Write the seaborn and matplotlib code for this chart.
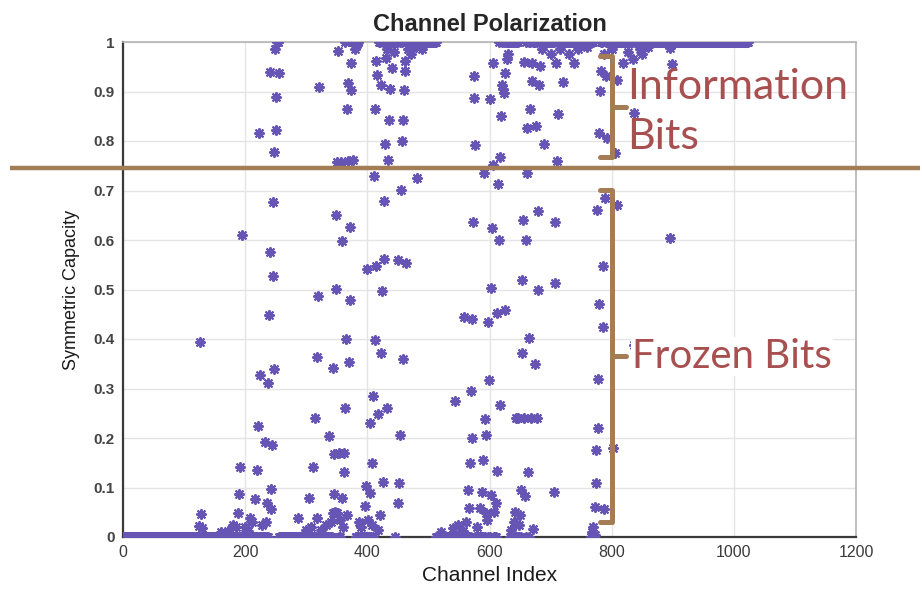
import numpy as np
import pandas as pd
import matplotlib
matplotlib.use("Agg")
import matplotlib.pyplot as plt
import matplotlib.transforms as mtransforms
from matplotlib import font_manager
import seaborn as sns

# ---------------------------------------------------------------------------
# Data: symmetric capacity of the synthesised channels (N = 1024)
# ---------------------------------------------------------------------------
N_CHANNELS = 1024

# Channels whose capacity lies strictly between 0 and 1
mid_index = [
    124, 126, 128, 130, 160, 172, 180, 185, 188, 190, 192, 194, 200, 205, 208, 212,
    216, 219, 221, 223, 225, 228, 232, 234, 236, 238, 239, 240, 241, 242, 243, 244,
    245, 246, 247, 248, 249, 250, 251, 255,
    287, 300, 305, 308, 311, 315, 317, 318, 320, 321, 324, 333, 337, 340, 343, 344,
    345, 346, 347, 348, 349, 350, 351, 352, 353, 355, 357, 358, 359, 360, 361, 362,
    363, 365, 366, 367, 368, 369, 370, 371, 372, 373, 374, 376, 380, 383, 386, 390,
    396, 398, 399, 401, 404, 405, 407, 408, 410, 411, 412, 413, 414, 415, 416, 417,
    418, 420, 422, 423, 424, 426, 427, 428, 429, 430, 432, 433, 434, 436, 437, 440,
    444, 445, 450, 451, 452, 453, 455, 456, 458, 459, 460, 461, 462, 464, 467, 472,
    480, 481, 490,
    520, 540, 543, 548, 556, 559, 562, 565, 566, 568, 570, 571, 572, 573, 574, 575,
    576, 580, 585, 587, 590, 591, 593, 594, 595, 596, 598, 599, 601, 602, 603, 604,
    605, 606, 608, 611, 612, 613, 614, 615, 617, 618, 619, 620, 622, 624, 625, 626,
    628, 630, 636, 640, 642, 644, 646, 648, 650, 652, 653, 654, 655, 656, 657, 658,
    660, 661, 662, 663, 665, 666, 668, 669, 670, 672, 675, 676, 678, 679, 680, 681,
    683, 686, 689, 700, 705, 707, 708, 709, 710, 712, 716, 721, 730, 738, 745, 760,
    768, 770, 772, 773, 774, 775, 776, 777, 778, 779, 780, 781, 783, 785, 786, 787,
    788, 789, 790, 792, 800, 803, 806, 808, 809, 819, 826, 835, 836, 837, 846, 849,
    860, 895, 896, 898,
]
mid_capacity = [
    0.022, 0.393, 0.047, 0.018, 0.010, 0.012, 0.025, 0.020, 0.049, 0.086, 0.142, 0.611, 0.020, 0.012, 0.039, 0.030,
    0.076, 0.136, 0.224, 0.817, 0.327, 0.025, 0.192, 0.030, 0.068, 0.312, 0.449, 0.575, 0.940, 0.097, 0.057, 0.186,
    0.528, 0.677, 0.777, 0.339, 0.985, 0.823, 0.889, 0.937,
    0.039, 0.015, 0.078, 0.020, 0.142, 0.240, 0.363, 0.039, 0.486, 0.910, 0.015, 0.025, 0.204, 0.030, 0.048, 0.341,
    0.086, 0.167, 0.050, 0.501, 0.651, 0.757, 0.048, 0.982, 0.170, 0.035, 0.758, 0.079, 0.597, 0.020, 0.132, 0.170,
    0.261, 0.400, 0.865, 0.044, 0.759, 0.918, 0.354, 0.479, 0.626, 0.904, 0.958, 0.762, 0.985, 0.995, 0.030, 0.020,
    0.062, 0.104, 0.541, 0.035, 0.088, 0.230, 0.150, 0.025, 0.285, 0.730, 0.398, 0.865, 0.547, 0.962, 0.933, 0.015,
    0.248, 0.044, 0.372, 0.914, 0.496, 0.111, 0.561, 0.678, 0.793, 0.968, 0.261, 0.985, 0.761, 0.842, 0.906, 0.948,
    0.980, 0.000, 0.068, 0.559, 0.110, 0.206, 0.702, 0.800, 0.360, 0.842, 0.903, 0.962, 0.941, 0.553, 0.985, 0.975,
    0.990, 0.726, 0.985,
    0.010, 0.018, 0.275, 0.025, 0.012, 0.445, 0.030, 0.095, 0.058, 0.149, 0.295, 0.440, 0.199, 0.636, 0.931, 0.887,
    0.791, 0.020, 0.058, 0.091, 0.155, 0.736, 0.238, 0.049, 0.206, 0.035, 0.435, 0.318, 0.885, 0.084, 0.503, 0.624,
    0.752, 0.958, 0.050, 0.068, 0.452, 0.134, 0.714, 0.601, 0.267, 0.768, 0.850, 0.914, 0.905, 0.897, 0.459, 0.938,
    0.965, 0.975, 0.015, 0.030, 0.050, 0.240, 0.240, 0.025, 0.044, 0.095, 0.520, 0.372, 0.641, 0.960, 0.240, 0.082,
    0.599, 0.736, 0.827, 0.132, 0.402, 0.864, 0.240, 0.921, 0.958, 0.016, 0.350, 0.830, 0.240, 0.498, 0.658, 0.914,
    0.951, 0.985, 0.793, 0.975, 0.091, 0.636, 0.513, 0.958, 0.759, 0.854, 0.985, 0.919, 0.975, 0.958, 0.985, 0.990,
    0.010, 0.020, 0.005, 0.061, 0.176, 0.109, 0.661, 0.221, 0.320, 0.817, 0.471, 0.901, 0.941, 0.424, 0.548, 0.057,
    0.975, 0.685, 0.931, 0.807, 0.985, 0.179, 0.776, 0.671, 0.924, 0.958, 0.980, 0.965, 0.857, 0.388, 0.985, 0.975,
    0.990, 0.988, 0.604, 0.955,
]

# Contiguous index ranges (inclusive) of fully bad and fully good channels
zero_runs = [(0, 245), (256, 362), (380, 411), (513, 614), (634, 664), (766, 772)]
one_runs = [(251, 255), (364, 386), (412, 512), (615, 648), (658, 770), (781, 1023)]

# Capacity threshold separating information bits from frozen bits
threshold = 0.746

# ---------------------------------------------------------------------------
# Assemble the scatter table
# ---------------------------------------------------------------------------
explicit = set(mid_index)
rows_idx, rows_val = list(mid_index), list(mid_capacity)
for runs, value in ((zero_runs, 0.0), (one_runs, 1.0)):
    for lo, hi in runs:
        for i in range(lo, hi + 1):
            if i not in explicit:
                rows_idx.append(i)
                rows_val.append(value)
df = pd.DataFrame({"Channel Index": rows_idx, "Symmetric Capacity": rows_val})


def first_font(cands):
    names = {f.name for f in font_manager.fontManager.ttflist}
    for c in cands:
        if c in names:
            return c
    return "DejaVu Sans"


narrow = first_font(["Liberation Sans Narrow", "Liberation Sans", "DejaVu Sans"])
label_font = first_font(["Lato", "Open Sans", "DejaVu Sans"])

sns.set_style("white")
plt.rcParams["font.family"] = [narrow, "DejaVu Sans"]

fig = plt.figure(figsize=(9.22, 5.90), dpi=100)
ax = fig.add_axes([123 / 922, 1 - 537 / 590, 733 / 922, 495 / 590])

point_color = "#6655B5"
sns.scatterplot(data=df, x="Channel Index", y="Symmetric Capacity", ax=ax,
                marker=(8, 2, 0), s=42, color=point_color, edgecolor=point_color,
                linewidth=1.5, zorder=3)

ax.set_xlim(0, 1200)
ax.set_ylim(0, 1)
ax.set_xticks(np.arange(0, 1201, 200))
ax.set_yticks(np.round(np.arange(0, 1.01, 0.1), 1))
ax.set_yticklabels(["0"] + [f"{v:.1f}" for v in np.arange(0.1, 0.95, 0.1)] + ["1"],
                   fontweight="bold")
ax.tick_params(axis="both", direction="in", length=4, width=1.2, colors="#333333",
               labelsize=11, pad=6)
ax.tick_params(axis="y", labelcolor="#444444")
ax.tick_params(axis="x", labelcolor="#3a3a3a", labelsize=11.5)
ax.grid(True, color="#e4e4e4", lw=1.0)
ax.set_axisbelow(True)
for side in ("left", "bottom"):
    ax.spines[side].set_color("#3a3a3a")
    ax.spines[side].set_linewidth(1.6)
for side in ("top", "right"):
    ax.spines[side].set_color("#b5b5b5")
    ax.spines[side].set_linewidth(1.2)
    ax.spines[side].set_visible(True)

ax.set_title("Channel Polarization", fontsize=17, fontweight="bold", pad=8)
ax.set_xlabel("Channel Index", fontsize=15, labelpad=4, color="#1a1a1a")
ax.set_ylabel("Symmetric Capacity", fontsize=13, labelpad=10, color="#1a1a1a")

# ---------------------------------------------------------------------------
# Threshold line and bracket annotations
# ---------------------------------------------------------------------------
brown = "#A47C55"
red_text = "#A84F50"
blend = mtransforms.blended_transform_factory(fig.transFigure, ax.transData)
ax.plot([10 / 922, 920 / 922], [threshold, threshold], transform=blend,
        color=brown, lw=3.2, clip_on=False, zorder=4, solid_capstyle="butt")


def bracket(y_top, y_bot, y_mid, x_in=781, x_line=800, x_tip=823):
    kw = dict(color=brown, lw=3.6, clip_on=False, zorder=5,
              solid_capstyle="round", solid_joinstyle="round")
    ax.plot([x_in, x_line, x_line, x_in], [y_top, y_top, y_bot, y_bot], **kw)
    ax.plot([x_line, x_tip], [y_mid, y_mid], **kw)


bracket(0.971, 0.768, 0.868)
bracket(0.701, 0.030, 0.366)

ax.text(826, 0.884, "Information", fontsize=31, color=red_text, family=label_font,
        va="baseline", ha="left", clip_on=False, zorder=6)
ax.text(826, 0.783, "Bits", fontsize=31, color=red_text, family=label_font,
        va="baseline", ha="left", clip_on=False, zorder=6)
ax.text(833, 0.3415, "Frozen Bits", fontsize=29, color=red_text, family=label_font,
        va="baseline", ha="left", clip_on=False, zorder=6,
        bbox=dict(facecolor="white", edgecolor="none", pad=0.5))

fig.savefig("out.png", dpi=100)
